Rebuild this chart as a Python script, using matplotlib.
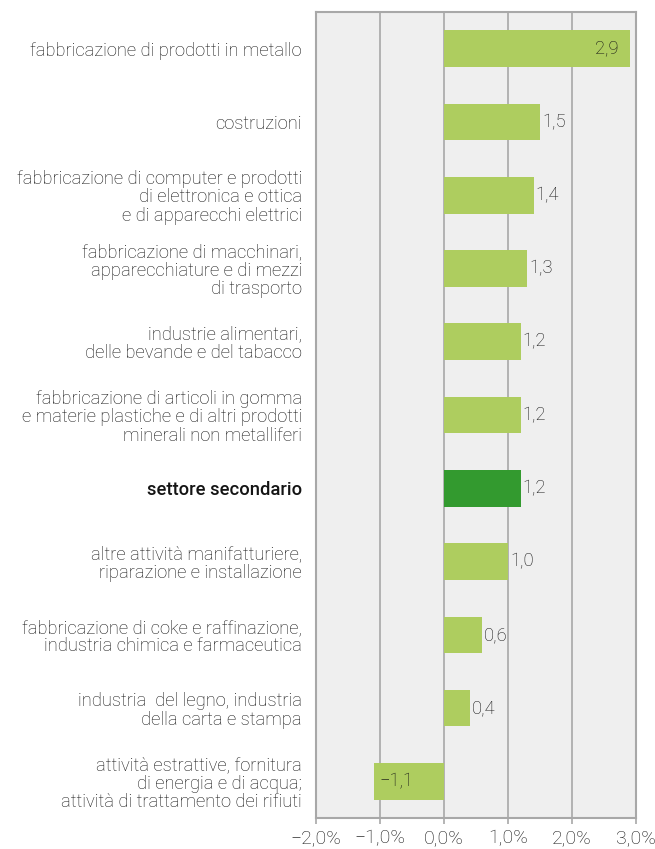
import numpy as np
import matplotlib.pyplot as plt

categories = [
    "fabbricazione di prodotti in metallo",
    "costruzioni",
    "fabbricazione di computer e prodotti\ndi elettronica e ottica\ne di apparecchi elettrici",
    "fabbricazione di macchinari,\napparecchiature e di mezzi\ndi trasporto",
    "industrie alimentari,\ndelle bevande e del tabacco",
    "fabbricazione di articoli in gomma\ne materie plastiche e di altri prodotti\nminerali non metalliferi",
    "settore secondario",
    "altre attività manifatturiere,\nriparazione e installazione",
    "fabbricazione di coke e raffinazione,\nindustria chimica e farmaceutica",
    "industria  del legno, industria\ndella carta e stampa",
    "attività estrattive, fornitura\ndi energia e di acqua;\nattività di trattamento dei rifiuti",
]
values = [2.9, 1.5, 1.4, 1.3, 1.2, 1.2, 1.2, 1.0, 0.6, 0.4, -1.1]
highlight = "settore secondario"
xticks = [-2, -1, 0, 1, 2, 3]

LIGHT = "#aecd5f"
DARK = "#339a2f"
GRID = "#a8a8a8"
TXT = "#141414"
FS = 13.2
W = "light"

plt.rcParams["font.family"] = ["Roboto", "DejaVu Sans"]

fig = plt.figure(figsize=(6.55, 8.49), dpi=100)
ax = fig.add_axes([316 / 655, 1 - 818 / 849, 320 / 655, 806 / 849])
ax.set_facecolor("#efefef")

y = np.arange(len(categories))
colors = [DARK if c == highlight else LIGHT for c in categories]
ax.barh(y, values, height=0.5, color=colors, zorder=3)

ax.set_xlim(-2, 3)
ax.set_ylim(len(categories) - 0.5, -0.5)
ax.set_xticks(xticks)
ax.set_xticklabels([f"{t:.1f}%".replace(".", ",").replace("-", "\u2212") for t in xticks],
                   fontsize=14, color=TXT, fontweight=W)
ax.xaxis.grid(True, color=GRID, linewidth=1.2, zorder=1)
ax.tick_params(axis="x", length=4, color=GRID, width=1.2, pad=4)
ax.set_yticks(y)
ax.set_yticklabels(categories, fontsize=FS, color=TXT, fontweight=W,
                   linespacing=1.04)
ax.tick_params(axis="y", length=0, pad=10)
for lab in ax.get_yticklabels():
    if lab.get_text() == highlight:
        lab.set_fontweight("medium")
for s in ax.spines.values():
    s.set_color(GRID)
    s.set_linewidth(1.5)

for yi, v in zip(y, values):
    txt = f"{abs(v):.1f}".replace(".", ",")
    if v < 0:
        txt = "\u2212" + txt
        ax.text(v + 0.09, yi, txt, ha="left", va="center", fontsize=FS,
                color=TXT, fontweight=W, zorder=4)
    elif v > 2.5:
        ax.text(v - 0.17, yi, txt, ha="right", va="center", fontsize=FS,
                color=TXT, fontweight=W, zorder=4)
    else:
        ax.text(v + 0.03, yi, txt, ha="left", va="center", fontsize=FS,
                color=TXT, fontweight=W, zorder=4)

fig.savefig("out.png", dpi=100)
